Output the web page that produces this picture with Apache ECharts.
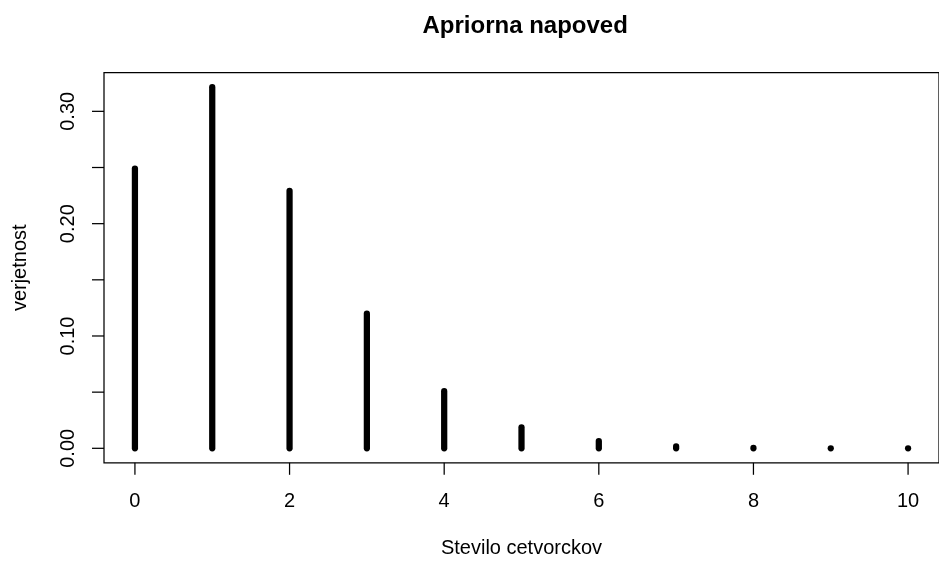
<!DOCTYPE html>
<html><head><meta charset="utf-8">
<script src="https://cdn.jsdelivr.net/npm/echarts@6/dist/echarts.min.js"></script>
<style>html,body{margin:0;padding:0;background:#fff}#c{width:939px;height:563px}</style>
</head><body><div id="c"></div>
<script>
// Prior predictive probabilities for the number of fours
const counts = [0, 1, 2, 3, 4, 5, 6, 7, 8, 9, 10];
const probs = [0.249, 0.3215, 0.2293, 0.1199, 0.0509, 0.0187, 0.0064, 0.0017, 0.0003, 0.00005, 0.00001];
const xTicks = [0, 2, 4, 6, 8, 10];
const yTicks = [0.00, 0.05, 0.10, 0.15, 0.20, 0.25, 0.30];
const yLabelled = [0.00, 0.10, 0.20, 0.30];

const font = '"Liberation Sans", Arial, Helvetica, sans-serif';
const X_MIN = -0.4, X_MAX = 10.4;
const Y_MIN = -0.0129, Y_MAX = 0.3344;
const LINE = 24;        // one margin line in px
const TICK = 12;        // tick length (half a line)

const chart = echarts.init(document.getElementById('c'), null, {renderer: 'canvas'});

// Each count drawn as a thick vertical line from 0 up to its probability
const stemSeries = {
  type: 'custom', clip: false,
  renderItem: function (params, api) {
    const base = api.coord([api.value(0), 0]);
    const top = api.coord([api.value(0), api.value(1)]);
    return {
      type: 'line',
      shape: {x1: base[0], y1: base[1], x2: top[0], y2: top[1]},
      style: {stroke: '#000', lineWidth: 6.25, lineCap: 'round'}
    };
  },
  data: counts.map((c, i) => [c, probs[i]])
};

// Bottom axis: ticks below the box with labels one line out
const xTickSeries = {
  type: 'custom', clip: false, silent: true,
  renderItem: function (params, api) {
    const p = api.coord([api.value(0), Y_MIN]);
    return {type: 'group', children: [
      {type: 'line', shape: {x1: p[0], y1: p[1], x2: p[0], y2: p[1] + TICK},
       style: {stroke: '#000', lineWidth: 1.25}},
      {type: 'text', x: p[0], y: p[1] + 1.62 * LINE,
       style: {text: String(api.value(0)), font: '20px ' + font, fill: '#000',
               align: 'center', verticalAlign: 'middle'}}
    ]};
  },
  data: xTicks.map(v => [v, 0])
};

// Left axis: ticks every 0.05, labels only where they fit
const yTickSeries = {
  type: 'custom', clip: false, silent: true,
  renderItem: function (params, api) {
    const v = api.value(1);
    const p = api.coord([X_MIN, v]);
    const children = [
      {type: 'line', shape: {x1: p[0], y1: p[1], x2: p[0] - TICK, y2: p[1]},
       style: {stroke: '#000', lineWidth: 1.25}}
    ];
    if (api.value(2)) {
      children.push({type: 'text', x: p[0] - 1.5 * LINE, y: p[1], rotation: Math.PI / 2,
        style: {text: v.toFixed(2), font: '20px ' + font, fill: '#000',
                align: 'center', verticalAlign: 'middle'}});
    }
    return {type: 'group', children: children};
  },
  data: yTicks.map(v => [0, v, yLabelled.some(t => Math.abs(t - v) < 1e-9) ? 1 : 0])
};

chart.setOption({
  animation: false,
  backgroundColor: '#fff',
  grid: {left: 104, right: -8, top: 72.7, bottom: 96.3, show: true,
         borderColor: '#000', borderWidth: 1.25},
  xAxis: {
    type: 'value', min: X_MIN, max: X_MAX,
    name: 'Stevilo cetvorckov', nameLocation: 'middle', nameGap: 3.55 * LINE,
    nameTextStyle: {fontFamily: font, fontSize: 20, color: '#000', verticalAlign: 'middle'},
    axisLine: {show: false}, axisTick: {show: false},
    axisLabel: {show: false}, splitLine: {show: false}
  },
  yAxis: {
    type: 'value', min: Y_MIN, max: Y_MAX,
    name: 'verjetnost', nameLocation: 'middle', nameGap: 3.5 * LINE, nameRotate: 90,
    nameTextStyle: {fontFamily: font, fontSize: 20, color: '#000', verticalAlign: 'middle'},
    axisLine: {show: false}, axisTick: {show: false},
    axisLabel: {show: false}, splitLine: {show: false}
  },
  graphic: [{
    type: 'text', left: 525.5 - 103, top: 14,
    style: {text: 'Apriorna napoved', font: 'bold 24px ' + font, fill: '#000'}
  }],
  series: [stemSeries, xTickSeries, yTickSeries]
});
</script></body></html>
